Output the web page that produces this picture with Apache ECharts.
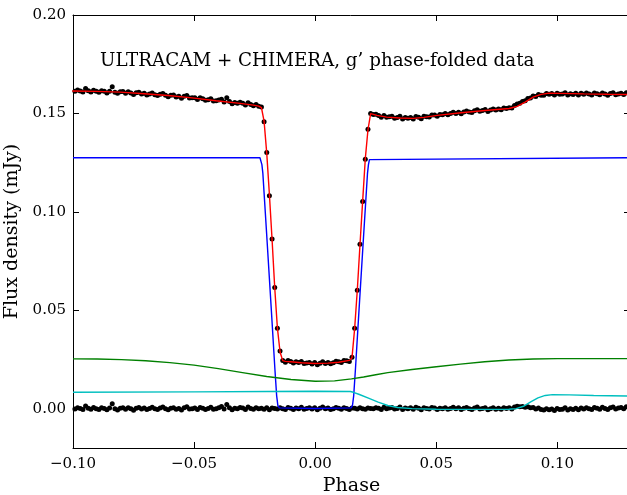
<!DOCTYPE html>
<html>
<head>
<meta charset="utf-8">
<script src="https://cdn.jsdelivr.net/npm/echarts@6/dist/echarts.min.js"></script>
<style>html,body{margin:0;padding:0;background:#fff;}#c{width:627px;height:495px;}</style>
</head>
<body>
<div id="c"></div>
<script>
// ---------- data ----------
const titleText = "ULTRACAM + CHIMERA, g\u2019 phase-folded data";
const xTicks = [-0.10, -0.05, 0.00, 0.05, 0.10];
const yTicks = [0.00, 0.05, 0.10, 0.15, 0.20];

// phase-folded data points
const phase = [
-0.1003,-0.0992,-0.0981,-0.0970,-0.0959,-0.0948,-0.0937,-0.0926,-0.0915,-0.0904,
-0.0893,-0.0882,-0.0871,-0.0860,-0.0849,-0.0838,-0.0827,-0.0816,-0.0805,-0.0794,
-0.0783,-0.0772,-0.0761,-0.0750,-0.0739,-0.0728,-0.0717,-0.0706,-0.0695,-0.0684,
-0.0673,-0.0662,-0.0651,-0.0640,-0.0629,-0.0618,-0.0607,-0.0596,-0.0585,-0.0574,
-0.0563,-0.0552,-0.0541,-0.0530,-0.0519,-0.0508,-0.0497,-0.0486,-0.0475,-0.0464,
-0.0453,-0.0442,-0.0431,-0.0420,-0.0409,-0.0398,-0.0387,-0.0376,-0.0365,-0.0354,
-0.0343,-0.0332,-0.0321,-0.0310,-0.0299,-0.0288,-0.0277,-0.0266,-0.0255,-0.0244,
-0.0233,-0.0222,-0.0211,-0.0200,-0.0189,-0.0178,-0.0167,-0.0156,-0.0145,-0.0134,
-0.0123,-0.0112,-0.0101,-0.0090,-0.0079,-0.0068,-0.0057,-0.0046,-0.0035,-0.0024,
-0.0013,-0.0002,0.0009,0.0020,0.0031,0.0042,0.0053,0.0064,0.0075,0.0086,
0.0097,0.0108,0.0119,0.0130,0.0141,0.0152,0.0163,0.0174,0.0185,0.0196,
0.0207,0.0218,0.0229,0.0240,0.0251,0.0262,0.0273,0.0284,0.0295,0.0306,
0.0317,0.0328,0.0339,0.0350,0.0361,0.0372,0.0383,0.0394,0.0405,0.0416,
0.0427,0.0438,0.0449,0.0460,0.0471,0.0482,0.0493,0.0504,0.0515,0.0526,
0.0537,0.0548,0.0559,0.0570,0.0581,0.0592,0.0603,0.0614,0.0625,0.0636,
0.0647,0.0658,0.0669,0.0680,0.0691,0.0702,0.0713,0.0724,0.0735,0.0746,
0.0757,0.0768,0.0779,0.0790,0.0801,0.0812,0.0823,0.0834,0.0845,0.0856,
0.0867,0.0878,0.0889,0.0900,0.0911,0.0922,0.0933,0.0944,0.0955,0.0966,
0.0977,0.0988,0.0999,0.1010,0.1021,0.1032,0.1043,0.1054,0.1065,0.1076,
0.1087,0.1098,0.1109,0.1120,0.1131,0.1142,0.1153,0.1164,0.1175,0.1186,
0.1197,0.1208,0.1219,0.1230,0.1241,0.1252,0.1263,0.1274,0.1285,0.1296
];
const flux = [
0.1617,0.1612,0.1619,0.1614,0.1609,0.1627,0.1615,0.1609,0.1618,0.1612,
0.1607,0.1615,0.1612,0.1604,0.1613,0.1635,0.1608,0.1602,0.1610,0.1611,
0.1603,0.1610,0.1604,0.1596,0.1605,0.1608,0.1599,0.1603,0.1594,0.1599,
0.1604,0.1595,0.1591,0.1597,0.1601,0.1592,0.1585,0.1592,0.1593,0.1584,
0.1587,0.1577,0.1587,0.1591,0.1578,0.1579,0.1580,0.1571,0.1580,0.1574,
0.1567,0.1570,0.1574,0.1563,0.1564,0.1568,0.1572,0.1558,0.1579,0.1561,
0.1549,0.1556,0.1551,0.1557,0.1552,0.1543,0.1554,0.1545,0.1539,0.1545,
0.1537,0.1532,0.1458,0.1302,0.1082,0.0862,0.0615,0.0408,0.0293,0.0244,
0.0236,0.0245,0.0240,0.0232,0.0238,0.0234,0.0240,0.0229,0.0232,0.0234,
0.0227,0.0234,0.0223,0.0231,0.0238,0.0229,0.0234,0.0228,0.0233,0.0241,
0.0238,0.0235,0.0245,0.0243,0.0240,0.0261,0.0409,0.0601,0.0835,0.1053,
0.1267,0.1420,0.1500,0.1494,0.1496,0.1490,0.1481,0.1489,0.1481,0.1483,
0.1485,0.1476,0.1479,0.1485,0.1472,0.1479,0.1476,0.1479,0.1472,0.1484,
0.1480,0.1473,0.1485,0.1483,0.1482,0.1492,0.1492,0.1486,0.1494,0.1493,
0.1500,0.1493,0.1499,0.1506,0.1499,0.1506,0.1498,0.1507,0.1512,0.1507,
0.1505,0.1513,0.1519,0.1511,0.1515,0.1520,0.1510,0.1517,0.1522,0.1517,
0.1523,0.1519,0.1528,0.1525,0.1529,0.1527,0.1540,0.1548,0.1551,0.1560,
0.1564,0.1576,0.1578,0.1589,0.1586,0.1596,0.1592,0.1592,0.1601,0.1597,
0.1601,0.1593,0.1603,0.1597,0.1598,0.1605,0.1594,0.1600,0.1596,0.1602,
0.1593,0.1602,0.1597,0.1604,0.1598,0.1594,0.1604,0.1600,0.1595,0.1604,
0.1598,0.1592,0.1601,0.1605,0.1595,0.1599,0.1602,0.1596,0.1605,0.1600
];
const residual = [
0.0003,-0.0002,0.0005,0.0001,-0.0004,0.0014,0.0002,-0.0003,0.0006,0.0000,
-0.0005,0.0004,0.0001,-0.0006,0.0003,0.0025,-0.0001,-0.0007,0.0002,0.0004,
-0.0003,0.0005,0.0000,-0.0008,0.0002,0.0006,-0.0002,0.0003,-0.0005,0.0001,
0.0007,-0.0001,-0.0004,0.0003,0.0008,0.0000,-0.0006,0.0002,0.0005,-0.0003,
0.0001,-0.0007,0.0004,0.0009,-0.0002,0.0000,0.0003,-0.0005,0.0006,0.0002,
-0.0004,0.0001,0.0007,-0.0003,0.0000,0.0005,0.0011,-0.0002,0.0021,0.0004,
-0.0006,0.0002,-0.0001,0.0006,0.0003,-0.0004,0.0008,0.0001,-0.0003,0.0005,
0.0000,0.0002,-0.0003,0.0004,-0.0006,0.0003,0.0001,-0.0002,0.0005,0.0000,
-0.0004,0.0006,0.0002,-0.0005,0.0003,0.0000,0.0007,-0.0003,0.0001,0.0004,
-0.0002,0.0005,-0.0006,0.0002,0.0008,-0.0001,0.0003,-0.0004,0.0000,0.0006,
0.0002,-0.0003,0.0005,0.0001,-0.0005,0.0003,0.0002,-0.0002,0.0004,0.0000,
-0.0003,0.0003,0.0001,-0.0001,0.0005,0.0002,-0.0004,0.0007,0.0000,0.0003,
0.0006,-0.0002,0.0001,0.0008,-0.0005,0.0003,0.0000,0.0004,-0.0003,0.0007,
0.0002,-0.0006,0.0005,0.0001,-0.0002,0.0006,0.0003,-0.0004,0.0002,0.0000,
0.0005,-0.0003,0.0001,0.0007,-0.0001,0.0004,-0.0005,0.0002,0.0006,0.0000,
-0.0004,0.0003,0.0008,-0.0002,0.0001,0.0005,-0.0006,0.0000,0.0004,-0.0003,
0.0002,-0.0003,0.0005,0.0001,0.0004,-0.0002,0.0008,0.0012,0.0009,0.0011,
0.0007,0.0010,0.0004,0.0006,-0.0002,0.0003,-0.0005,-0.0007,0.0000,-0.0006,
-0.0002,-0.0009,0.0001,-0.0005,-0.0003,0.0004,-0.0007,0.0000,-0.0004,0.0002,
-0.0006,0.0003,-0.0002,0.0005,0.0000,-0.0004,0.0006,0.0002,-0.0003,0.0007,
0.0001,-0.0005,0.0004,0.0008,-0.0002,0.0003,0.0006,0.0000,0.0009,0.0004
];

// total model (red)
const modelPhase = [-0.1003,-0.0904,-0.0805,-0.0706,-0.0607,-0.0508,-0.0409,-0.0310,-0.0255,-0.0233,
-0.0222,-0.0211,-0.0200,-0.0189,-0.0178,-0.0167,-0.0156,-0.0145,-0.0134,-0.0123,
-0.0101,-0.0057,-0.0002,0.0053,0.0097,0.0141,0.0152,0.0163,0.0174,0.0185,
0.0196,0.0207,0.0218,0.0229,0.0255,0.0295,0.0350,0.0405,0.0449,0.0504,
0.0603,0.0702,0.0801,0.0834,0.0867,0.0900,0.0933,0.0966,0.1010,0.1109,
0.1208,0.1300];
const modelFlux = [0.1614,0.1612,0.1608,0.1600,0.1591,0.1579,0.1564,0.1551,0.1542,0.1537,
0.1530,0.1461,0.1298,0.1088,0.0859,0.0614,0.0410,0.0288,0.0244,0.0240,
0.0238,0.0233,0.0229,0.0231,0.0236,0.0245,0.0258,0.0407,0.0603,0.0831,
0.1053,0.1270,0.1417,0.1499,0.1490,0.1481,0.1477,0.1475,0.1480,0.1490,
0.1503,0.1515,0.1525,0.1536,0.1557,0.1583,0.1597,0.1603,0.1602,0.1599,
0.1597,0.1596];

// white dwarf (blue)
const wdPhase = [-0.100,-0.0228,-0.0224,-0.0220,-0.0216,-0.0200,-0.0180,-0.0166,-0.0159,-0.0154,-0.0148,0.0000,
0.0148,0.0154,0.0159,0.0166,0.0180,0.0200,0.0216,0.0220,0.0224,0.0228,0.130];
const wdFlux = [0.1275,0.1275,0.1265,0.1240,0.1195,0.0880,0.0480,0.0195,0.0065,0.0015,0.0004,0.0001,
0.0004,0.0015,0.0065,0.0195,0.0480,0.0880,0.1195,0.1240,0.1265,0.1275,0.1275];

// disc (green)
const discPhase = [-0.10,-0.09,-0.08,-0.07,-0.06,-0.05,-0.04,-0.03,-0.02,-0.01,0.000,0.008,
0.015,0.02,0.025,0.03,0.04,0.05,0.06,0.07,0.08,0.09,0.10,0.13];
const discFlux = [0.0253,0.0252,0.0249,0.0243,0.0234,0.0221,0.0203,0.0183,0.0163,0.0148,0.0139,0.0141,
0.0151,0.0161,0.0172,0.0183,0.0199,0.0213,0.0226,0.0238,0.0247,0.0252,0.0254,0.0254];

// bright spot (cyan)
const spotPhase = [-0.10,-0.05,-0.02,0.000,0.0145,0.0158,0.018,0.022,0.026,0.030,0.034,0.040,
0.050,0.065,0.080,0.083,0.086,0.089,0.092,0.095,0.098,0.105,0.115,0.13];
const spotFlux = [0.0083,0.0085,0.0087,0.0088,0.0087,0.0083,0.0073,0.0053,0.0033,0.0016,0.0006,0.0000,
-0.0003,-0.0004,-0.0003,0.0000,0.0012,0.0034,0.0055,0.0067,0.0071,0.0070,0.0067,0.0064];

// ---------- chart ----------
const zip = (a, b) => a.map((v, i) => [v, b[i]]);
const FONT = "DejaVu Serif";
const fmt = v => (v < 0 ? "\u2212" : "") + Math.abs(v).toFixed(2);
const lineCol = "#000";

function xAx(pos, show) {
  return {
    type: "value", min: -0.10, max: 0.13, position: pos,
    name: show ? "Phase" : "", nameLocation: "middle", nameGap: 29,
    nameTextStyle: { fontFamily: FONT, fontSize: 19, color: "#000" },
    axisLine: { show: true, onZero: false, lineStyle: { color: lineCol, width: 1 } },
    axisTick: { show: true, inside: true, length: 6, customValues: xTicks, lineStyle: { color: lineCol, width: 1 } },
    axisLabel: { show: show, customValues: xTicks, formatter: fmt, margin: 9,
      fontFamily: FONT, fontSize: 15, color: "#000" },
    splitLine: { show: false }
  };
}
function yAx(pos, show) {
  return {
    type: "value", min: -0.02, max: 0.20, position: pos,
    name: show ? "Flux density (mJy)" : "", nameLocation: "middle", nameGap: 40,
    nameTextStyle: { fontFamily: FONT, fontSize: 19, color: "#000" },
    axisLine: { show: true, onZero: false, lineStyle: { color: lineCol, width: 1 } },
    axisTick: { show: true, inside: true, length: 6, customValues: yTicks, lineStyle: { color: lineCol, width: 1 } },
    axisLabel: { show: show, customValues: yTicks, formatter: fmt, margin: 7,
      fontFamily: FONT, fontSize: 15, color: "#000" },
    splitLine: { show: false }
  };
}

const chart = echarts.init(document.getElementById("c"), null, { renderer: "canvas" });
chart.setOption({
  animation: false,
  backgroundColor: "#fff",
  title: {
    text: titleText, left: 95, top: 47, padding: 5,
    textStyle: { fontFamily: FONT, fontSize: 18.3, fontWeight: "normal", color: "#000" }
  },
  grid: { left: 73, top: 15, width: 557, height: 433, containLabel: false, outerBoundsMode: "none" },
  xAxis: [xAx("bottom", true), xAx("top", false)],
  yAxis: [yAx("left", true), yAx("right", false)],
  series: [
    { type: "scatter", data: zip(phase, flux), symbolSize: 5, itemStyle: { color: "#000", opacity: 1 }, z: 2, silent: true },
    { type: "scatter", data: zip(phase, residual), symbolSize: 5, itemStyle: { color: "#000", opacity: 1 }, z: 2, silent: true },
    { type: "line", data: zip(modelPhase, modelFlux), showSymbol: false, lineStyle: { color: "#ff0000", width: 1.4 }, z: 3, silent: true },
    { type: "line", data: zip(wdPhase, wdFlux), showSymbol: false, lineStyle: { color: "#0000ff", width: 1.4 }, z: 3, silent: true },
    { type: "line", data: zip(discPhase, discFlux), showSymbol: false, lineStyle: { color: "#008000", width: 1.4 }, z: 3, silent: true },
    { type: "line", data: zip(spotPhase, spotFlux), showSymbol: false, lineStyle: { color: "#00bfbf", width: 1.4 }, z: 3, silent: true }
  ]
});
</script>
</body>
</html>
